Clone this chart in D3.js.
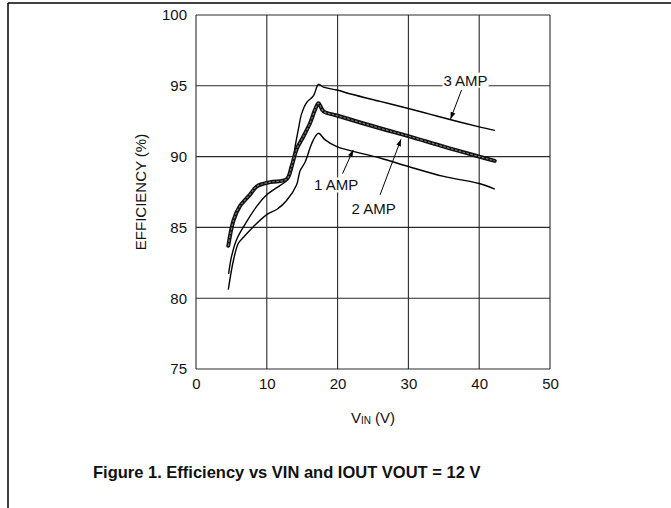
<!DOCTYPE html>
<html>
<head>
<meta charset="utf-8">
<script src="https://cdn.jsdelivr.net/npm/d3@7"></script>
<style>
  html, body { margin: 0; padding: 0; background: #fff; }
  svg { display: block; font-family: "Liberation Sans", Arial, sans-serif; }
</style>
</head>
<body>
<svg id="chart" width="671" height="508"></svg>
<script>
// ---- data ----
const xTicks = [0, 10, 20, 30, 40, 50];
const yTicks = [75, 80, 85, 90, 95, 100];

const amp3X = [4.6, 5.0, 5.7, 6.9, 8.6, 10.0, 12.0, 12.8, 13.5, 14.0, 14.45, 14.9, 15.6, 16.6, 17.3, 18.0, 19.9, 22.0, 26.0, 30.0, 33.0, 36.0, 40.0, 42.2];
const amp3Y = [81.7, 82.9, 84.1, 85.2, 86.5, 87.3, 88.0, 88.3, 89.0, 90.7, 91.9, 93.0, 93.8, 94.3, 95.1, 94.9, 94.7, 94.4, 93.9, 93.4, 93.0, 92.6, 92.1, 91.85];

const amp2X = [4.56, 5.3, 6.2, 7.6, 8.6, 10.5, 12.8, 13.5, 14.2, 15.15, 16.1, 16.8, 17.3, 18.0, 19.9, 26.0, 30.0, 35.0, 40.0, 42.2];
const amp2Y = [83.7, 85.5, 86.5, 87.3, 87.9, 88.2, 88.4, 89.3, 90.5, 91.4, 92.35, 93.3, 93.76, 93.2, 92.9, 92.0, 91.45, 90.7, 90.0, 89.7];

const amp1X = [4.56, 5.3, 6.0, 6.7, 8.1, 10.0, 11.5, 12.8, 14.2, 14.7, 15.4, 16.1, 16.6, 17.3, 18.2, 19.9, 26.0, 30.0, 35.0, 40.0, 42.2];
const amp1Y = [80.6, 82.7, 83.9, 84.3, 85.05, 85.9, 86.3, 86.9, 88.0, 89.0, 89.6, 90.6, 91.2, 91.65, 91.2, 90.7, 89.9, 89.3, 88.6, 88.1, 87.7];

const labels = ["3 AMP", "2 AMP", "1 AMP"];
// label anchor (data coords), arrow tail, arrow tip
const labelPos = [[38.07, 95.4], [25.1, 86.3], [19.8, 88.0]];
const arrowTail = [[37.5, 94.7], [26.0, 87.3], [20.7, 88.8]];
const arrowTip = [[35.95, 92.65], [28.95, 91.22], [22.2, 90.47]];

const xTitle = ["V", "IN", " (V)"];
const yTitle = "EFFICIENCY (%)";
const figTitle = "Figure 1. Efficiency vs VIN and IOUT VOUT = 12 V";

// ---- drawing ----
const svg = d3.select("#chart");
const x = d3.scaleLinear().domain([0, 50]).range([196, 550]);
const y = d3.scaleLinear().domain([75, 100]).range([369, 15]);

// outer frame
svg.append("line").attr("x1", 8).attr("y1", 3).attr("x2", 671).attr("y2", 3)
  .attr("stroke", "#000").attr("stroke-width", 1.5);
svg.append("line").attr("x1", 8).attr("y1", 3).attr("x2", 8).attr("y2", 508)
  .attr("stroke", "#000").attr("stroke-width", 1.5);

// grid
const grid = svg.append("g");
grid.selectAll("line.v").data(xTicks).enter().append("line")
  .attr("x1", d => x(d)).attr("x2", d => x(d))
  .attr("y1", y(75)).attr("y2", y(100))
  .attr("stroke", "#2a2a2a").attr("stroke-width", 1.1);
grid.selectAll("line.h").data(yTicks).enter().append("line")
  .attr("y1", d => y(d)).attr("y2", d => y(d))
  .attr("x1", x(0)).attr("x2", x(50))
  .attr("stroke", "#2a2a2a").attr("stroke-width", 1.1);

// axes (labels only)
const xAxis = d3.axisBottom(x).tickValues(xTicks).tickSize(0).tickPadding(9);
const gx = svg.append("g").attr("transform", `translate(0,${y(75)})`).call(xAxis);
gx.select(".domain").remove();
gx.selectAll("text").attr("font-size", 15).attr("fill", "#111")
  .attr("font-family", "Liberation Sans, Arial, sans-serif");

const yAxis = d3.axisLeft(y).tickValues(yTicks).tickSize(0).tickPadding(9);
const gy = svg.append("g").attr("transform", `translate(${x(0)},0)`).call(yAxis);
gy.select(".domain").remove();
gy.selectAll("text").attr("font-size", 15).attr("fill", "#111")
  .attr("font-family", "Liberation Sans, Arial, sans-serif");

// curves
const line = d3.line().x(d => x(d[0])).y(d => y(d[1])).curve(d3.curveCatmullRom.alpha(0.5));
const zip = (a, b) => a.map((v, i) => [v, b[i]]);

svg.append("path").datum(zip(amp1X, amp1Y)).attr("d", line)
  .attr("fill", "none").attr("stroke", "#000").attr("stroke-width", 1.4);
svg.append("path").datum(zip(amp3X, amp3Y)).attr("d", line)
  .attr("fill", "none").attr("stroke", "#000").attr("stroke-width", 1.4);
svg.append("path").datum(zip(amp2X, amp2Y)).attr("d", line)
  .attr("fill", "none").attr("stroke", "#111").attr("stroke-width", 4)
  .attr("stroke-linejoin", "round").attr("stroke-linecap", "round");
svg.append("path").datum(zip(amp2X, amp2Y)).attr("d", line)
  .attr("fill", "none").attr("stroke", "#7a7a7a").attr("stroke-width", 1.2)
  .attr("stroke-dasharray", "2.5,1.5");

// annotations
svg.append("defs").append("marker").attr("id", "arr")
  .attr("viewBox", "0 0 10 10").attr("refX", 10).attr("refY", 5)
  .attr("markerWidth", 7).attr("markerHeight", 7).attr("markerUnits", "userSpaceOnUse")
  .attr("orient", "auto")
  .append("path").attr("d", "M0,1.5 L10,5 L0,8.5 Z").attr("fill", "#000");

labels.forEach((t, i) => {
  const g = svg.append("g");
  const txt = g.append("text")
    .attr("x", x(labelPos[i][0])).attr("y", y(labelPos[i][1]))
    .attr("text-anchor", "middle").attr("dominant-baseline", "central")
    .attr("font-size", 15).attr("fill", "#111").text(t);
  const bb = txt.node().getBBox();
  g.insert("rect", "text").attr("x", bb.x - 1).attr("y", bb.y + 1)
    .attr("width", bb.width + 2).attr("height", bb.height - 2).attr("fill", "#fff");
  svg.append("line")
    .attr("x1", x(arrowTail[i][0])).attr("y1", y(arrowTail[i][1]))
    .attr("x2", x(arrowTip[i][0])).attr("y2", y(arrowTip[i][1]))
    .attr("stroke", "#000").attr("stroke-width", 1).attr("marker-end", "url(#arr)");
});

// axis titles
const xt = svg.append("text").attr("x", (x(0) + x(50)) / 2).attr("y", 417)
  .attr("text-anchor", "middle").attr("dominant-baseline", "central")
  .attr("font-size", 15).attr("fill", "#111");
xt.append("tspan").text(xTitle[0]);
xt.append("tspan").attr("font-size", 10).attr("dy", 3).text(xTitle[1]);
xt.append("tspan").attr("dy", -3).text(xTitle[2]);

svg.append("text")
  .attr("transform", `translate(140,${(y(75) + y(100)) / 2}) rotate(-90)`)
  .attr("text-anchor", "middle").attr("dominant-baseline", "central")
  .attr("font-size", 15).attr("fill", "#111").text(yTitle);

svg.append("text").attr("x", 93).attr("y", 472)
  .attr("dominant-baseline", "central")
  .attr("font-size", 16.5).attr("font-weight", "bold").attr("fill", "#111").text(figTitle);
</script>
</body>
</html>
